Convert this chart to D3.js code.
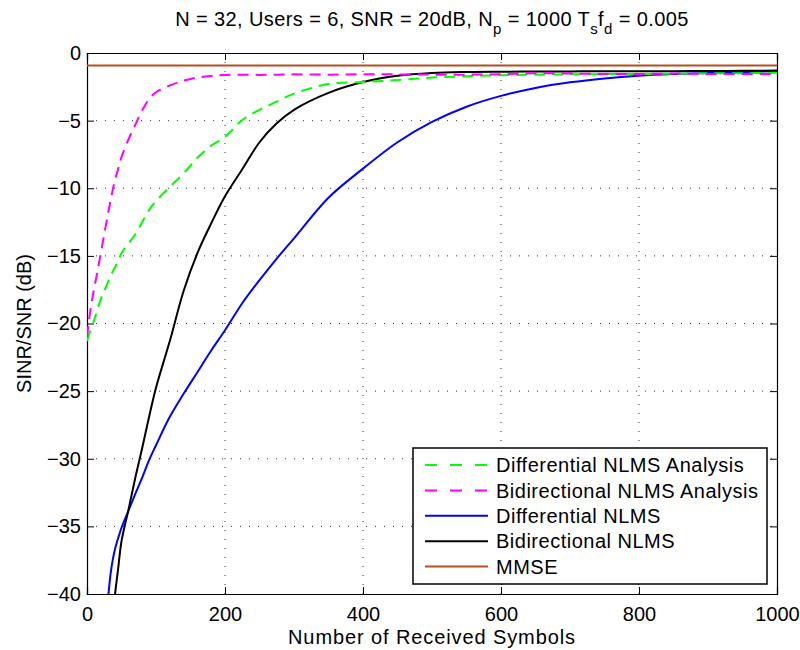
<!DOCTYPE html>
<html>
<head>
<meta charset="utf-8">
<script src="https://cdn.jsdelivr.net/npm/d3@7"></script>
<style>
  html, body { margin: 0; padding: 0; background: #fff; }
  svg text { font-family: "Liberation Sans", Arial, Helvetica, sans-serif; fill: #000; }
</style>
</head>
<body>
<svg id="chart" width="800" height="650"></svg>
<script>
// Number of received symbols at which each curve is sampled
const symbols = [0, 5, 10, 15, 20, 25, 30, 35, 40, 45, 50, 60, 70, 80, 90, 100, 120, 140, 160, 180,
                 200, 225, 250, 275, 300, 350, 400, 450, 500, 550, 600, 650, 700, 750, 800, 850, 900, 950, 1000];

// SINR/SNR in dB for each series (null = not plotted)
const diffAnalysis = [-21.3, -20.5, -19.8, -19.0, -18.2, -17.6, -17.0, -16.4, -15.9, -15.4, -14.8, -14.1, -13.4, -12.5, -11.6, -10.95, -9.9, -8.9, -7.75, -6.85,
                      -6.2, -4.95, -4.2, -3.6, -3.0, -2.3, -2.15, -2.0, -1.82, -1.72, -1.64, -1.6, -1.58, -1.56, -1.55, -1.53, -1.5, -1.5, -1.46];
const bidiAnalysis = [-21.0, -19.0, -17.5, -16.2, -14.8, -13.4, -12.0, -10.7, -9.5, -8.6, -7.7, -6.4, -5.3, -4.25, -3.4, -2.9, -2.4, -2.05, -1.82, -1.7,
                      -1.63, -1.6, -1.62, -1.6, -1.58, -1.6, -1.57, -1.58, -1.6, -1.6, -1.57, -1.5, -1.52, -1.55, -1.55, -1.52, -1.55, -1.55, -1.55];
const diffNlms = [null, null, null, null, null, -43.5, -40.6, -38.2, -36.8, -35.9, -35.1, -33.85, -32.6, -31.4, -30.1, -29.0, -26.9, -25.2, -23.6, -22.0,
                  -20.5, -18.5, -16.8, -15.2, -13.7, -10.7, -8.55, -6.6, -5.1, -3.97, -3.17, -2.58, -2.17, -1.88, -1.68, -1.56, -1.48, -1.41, -1.35];
const bidiNlms = [null, null, null, null, null, null, null, -43.0, -40.3, -38.2, -36.1, -33.8, -31.4, -29.2, -26.9, -24.75, -21.3, -17.6, -14.8, -12.6,
                  -10.6, -8.6, -6.6, -5.2, -4.2, -2.95, -2.15, -1.68, -1.47, -1.4, -1.38, -1.37, -1.36, -1.35, -1.35, -1.35, -1.33, -1.32, -1.3];
const mmse = symbols.map(() => -0.93);

const seriesNames = ["Differential NLMS Analysis", "Bidirectional NLMS Analysis", "Differential NLMS", "Bidirectional NLMS", "MMSE"];
const seriesValues = [diffAnalysis, bidiAnalysis, diffNlms, bidiNlms, mmse];
const seriesColors = ["#00ff00", "#ff00ff", "#0000ff", "#000000", "#b4501e"];
const seriesDashed = [true, true, false, false, false];

const xTicks = [0, 200, 400, 600, 800, 1000];
const yTicks = [0, -5, -10, -15, -20, -25, -30, -35, -40];

const svg = d3.select("#chart");
const m = { left: 87, right: 23, top: 53, bottom: 56 };
const W = 800 - m.left - m.right;
const H = 650 - m.top - m.bottom;
const FS = 20;
const LS = "0.5px";

const x = d3.scaleLinear().domain([0, 1000]).range([0, W]);
const y = d3.scaleLinear().domain([-40, 0]).range([H, 0]);

const g = svg.append("g").attr("transform", `translate(${m.left},${m.top})`);

g.append("defs").append("clipPath").attr("id", "plotClip")
  .append("rect").attr("width", W).attr("height", H);

// dotted grid
const grid = g.append("g").attr("stroke", "#333").attr("stroke-width", 1).attr("stroke-dasharray", "1,8");
grid.selectAll("line.gx").data(xTicks.slice(1, -1)).join("line")
  .attr("x1", d => x(d)).attr("x2", d => x(d)).attr("y1", 0).attr("y2", H);
grid.selectAll("line.gy").data(yTicks.slice(1, -1)).join("line")
  .attr("x1", 0).attr("x2", W).attr("y1", d => y(d)).attr("y2", d => y(d));

// axes with inward ticks on all four sides
const tl = 7;
const fmtY = d => d < 0 ? "\u2212" + Math.abs(d) : String(d);
const axB = g.append("g").attr("transform", `translate(0,${H})`)
  .call(d3.axisBottom(x).tickValues(xTicks).tickSize(-tl).tickPadding(13).tickFormat(d3.format("d")));
const axL = g.append("g")
  .call(d3.axisLeft(y).tickValues(yTicks).tickSize(-tl).tickPadding(6).tickFormat(fmtY));
const axT = g.append("g")
  .call(d3.axisTop(x).tickValues(xTicks).tickSize(-tl).tickFormat(""));
const axR = g.append("g").attr("transform", `translate(${W},0)`)
  .call(d3.axisRight(y).tickValues(yTicks).tickSize(-tl).tickFormat(""));
[axB, axL, axT, axR].forEach(a => {
  a.select(".domain").attr("stroke", "#000").attr("stroke-width", 1.2);
  a.selectAll(".tick line").attr("stroke", "#000").attr("stroke-width", 1);
  a.selectAll("text").attr("font-size", FS).attr("font-family", "Liberation Sans, Arial, sans-serif").attr("fill", "#000");
});
axB.selectAll(".tick text").attr("dy", "0.71em");

// curves
const line = d3.line()
  .defined(d => d[1] !== null)
  .x(d => x(d[0])).y(d => y(d[1]))
  .curve(d3.curveCatmullRom.alpha(0.5));

const plot = g.append("g").attr("clip-path", "url(#plotClip)");
// MMSE and simulations first, analysis curves on top
[4, 2, 3, 0, 1].forEach(i => {
  plot.append("path")
    .attr("d", line(symbols.map((s, k) => [s, seriesValues[i][k]])))
    .attr("fill", "none")
    .attr("stroke", seriesColors[i])
    .attr("stroke-width", 2)
    .attr("stroke-dasharray", seriesDashed[i] ? "11,7" : null);
});

// legend
const lg = g.append("g").attr("transform", `translate(${413 - m.left},${448 - m.top})`);
lg.append("rect").attr("width", 354).attr("height", 136)
  .attr("fill", "#fff").attr("stroke", "#000").attr("stroke-width", 1.5);
seriesNames.forEach((name, i) => {
  const yy = 17 + i * 25.4;
  lg.append("line").attr("x1", 12).attr("x2", 75).attr("y1", yy).attr("y2", yy)
    .attr("stroke", seriesColors[i]).attr("stroke-width", 2)
    .attr("stroke-dasharray", seriesDashed[i] ? "12,13" : null);
  lg.append("text").attr("x", 83).attr("y", yy).attr("dy", "0.36em")
    .attr("font-size", FS).attr("letter-spacing", LS).text(name);
});

// axis labels
svg.append("text").attr("x", m.left + W / 2).attr("y", 644)
  .attr("text-anchor", "middle").attr("font-size", FS).attr("letter-spacing", "0.9px")
  .text("Number of Received Symbols");
svg.append("text").attr("transform", `translate(31,${m.top + H / 2}) rotate(-90)`)
  .attr("text-anchor", "middle").attr("font-size", FS).text("SINR/SNR (dB)");

// title with subscripts
const title = svg.append("text").attr("x", m.left + W / 2).attr("y", 26)
  .attr("text-anchor", "middle").attr("font-size", FS).attr("letter-spacing", "0.4px");
title.append("tspan").text("N = 32, Users = 6, SNR = 20dB, N");
title.append("tspan").attr("font-size", 15).attr("dy", 8).text("p");
title.append("tspan").attr("dy", -8).text(" = 1000 T");
title.append("tspan").attr("font-size", 15).attr("dy", 8).text("s");
title.append("tspan").attr("dy", -8).text("f");
title.append("tspan").attr("font-size", 15).attr("dy", 8).text("d");
title.append("tspan").attr("dy", -8).text(" = 0.005");
</script>
</body>
</html>
